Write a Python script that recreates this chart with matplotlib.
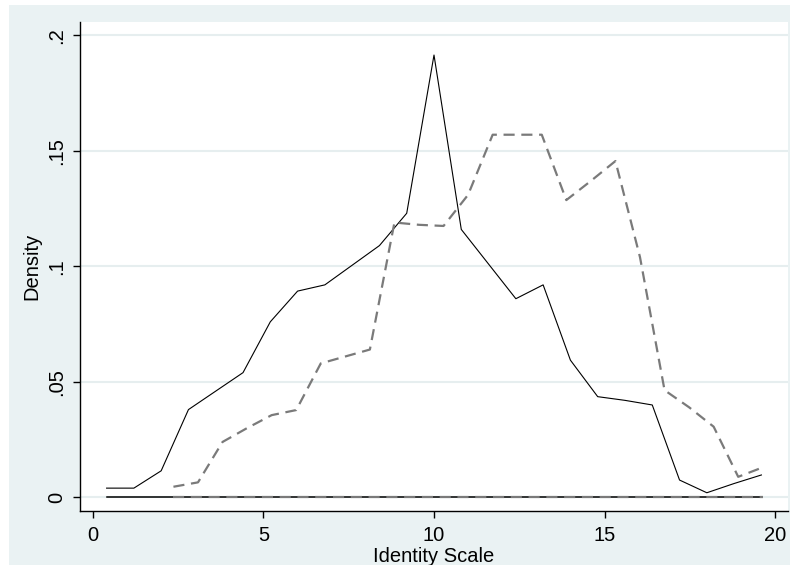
import numpy as np
import matplotlib.pyplot as plt
from matplotlib.patches import Rectangle

# ---- data: frequency polygons of the identity scale ----
solid_x = [0.4, 1.2, 2.0, 2.8, 3.6, 4.4, 5.2, 6.0, 6.8, 7.6, 8.4, 9.2, 10.0,
           10.8, 11.6, 12.4, 13.2, 14.0, 14.8, 15.6, 16.4, 17.2, 18.0, 18.8, 19.6]
solid_y = [0.004, 0.004, 0.0115, 0.038, 0.046, 0.054, 0.076, 0.0893, 0.092,
           0.1005, 0.109, 0.123, 0.1915, 0.116, 0.101, 0.086, 0.092, 0.0594,
           0.0436, 0.042, 0.040, 0.0075, 0.002, 0.006, 0.0097]

dash_x = [2.36, 3.08, 3.80, 4.52, 5.24, 5.96, 6.68, 7.40, 8.12, 8.84, 9.56,
          10.28, 11.00, 11.72, 12.44, 13.16, 13.88, 14.60, 15.32, 16.04,
          16.76, 17.48, 18.20, 18.92, 19.64]
dash_y = [0.0046, 0.0065, 0.024, 0.030, 0.0356, 0.0378, 0.058, 0.061, 0.064,
          0.119, 0.118, 0.1175, 0.131, 0.157, 0.157, 0.157, 0.1287, 0.137,
          0.1456, 0.104, 0.0464, 0.039, 0.0306, 0.0089, 0.013]

x_ticks = [0, 5, 10, 15, 20]
y_ticks = [0, 0.05, 0.1, 0.15, 0.2]
y_tick_labels = ["0", ".05", ".1", ".15", ".2"]

# ---- style ----
plt.rcParams["font.family"] = ["Liberation Sans", "DejaVu Sans"]
BG = "#EAF2F3"
GRID = "#E6EEEF"

fig = plt.figure(figsize=(7.9, 5.65), dpi=100, facecolor="white")
fig.patches.append(Rectangle((9 / 790, 0), 1, 1 - 5 / 565,
                             transform=fig.transFigure, facecolor=BG,
                             edgecolor="none", zorder=-10))

ax = fig.add_axes([80 / 790, 54 / 565, 708 / 790, 489 / 565])
ax.set_facecolor("white")

ax.plot(solid_x, solid_y, color="black", linewidth=0.8, zorder=3)
ax.plot(dash_x, dash_y, color="#7a7a7a", linewidth=1.6,
        dashes=(5, 3), zorder=3)
# baselines at zero
ax.plot([solid_x[0], solid_x[-1]], [0, 0], color="black", linewidth=1.1, zorder=2)
ax.plot([dash_x[0], dash_x[-1]], [0, 0], color="#7a7a7a", linewidth=1.6,
        dashes=(5, 3), zorder=2)

ax.set_xlim(-0.38, 20.38)
ax.set_ylim(-0.0059, 0.2058)

ax.set_xticks(x_ticks)
ax.set_yticks(y_ticks)
ax.set_yticklabels(y_tick_labels, rotation=90, va="center")
ax.tick_params(axis="both", labelsize=14.5, length=5, width=1.0,
               color="black", direction="out")
ax.tick_params(axis="x", pad=6)
ax.tick_params(axis="y", pad=5)

ax.grid(axis="y", color=GRID, linewidth=1.5)
ax.set_axisbelow(True)

for side in ["top", "right"]:
    ax.spines[side].set_visible(False)
for side in ["left", "bottom"]:
    ax.spines[side].set_linewidth(1.0)
    ax.spines[side].set_color("black")

ax.set_xlabel("Identity Scale", fontsize=14.5, labelpad=1)
ax.set_ylabel("Density", fontsize=14.5, labelpad=4)

fig.savefig("out.png", dpi=100, facecolor=fig.get_facecolor())
